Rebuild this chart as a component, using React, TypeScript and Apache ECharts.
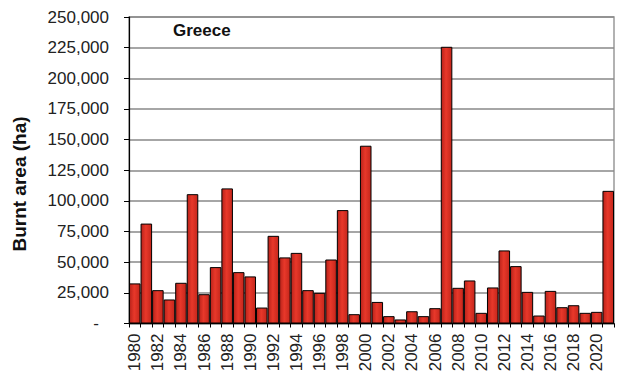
import React, { useEffect, useRef } from "react";
import * as echarts from "echarts";

const years: string[] = [
  "1980","1981","1982","1983","1984","1985","1986","1987","1988","1989",
  "1990","1991","1992","1993","1994","1995","1996","1997","1998","1999",
  "2000","2001","2002","2003","2004","2005","2006","2007","2008","2009",
  "2010","2011","2012","2013","2014","2015","2016","2017","2018","2019",
  "2020","2021",
];

const burntArea: number[] = [
  32700, 81500, 27200, 19600, 33200, 105500, 23900, 46000, 110200, 41900,
  38400, 13000, 71500, 53900, 57600, 27200, 25000, 52200, 92500, 7600,
  145000, 17600, 6000, 3300, 10000, 6000, 12500, 225700, 29100, 35100,
  8700, 29400, 59600, 46800, 25800, 6500, 26600, 13300, 14900, 8700,
  9500, 108200,
];

const chartTitle = "Greece";
const yAxisTitle = "Burnt area (ha)";

const FONT = "'Liberation Sans', Arial, sans-serif";

export default function App() {
  const ref = useRef<HTMLDivElement>(null);

  useEffect(() => {
    document.body.style.margin = "0";
    if (!ref.current) return;
    const chart = echarts.init(ref.current, undefined, { renderer: "svg" });
    chart.setOption({
      animation: false,
      backgroundColor: "#ffffff",
      textStyle: { fontFamily: FONT },
      title: {
        text: chartTitle,
        left: 168,
        top: 17,
        textStyle: { fontFamily: FONT, fontSize: 17, fontWeight: "bold", color: "#111" },
      },
      graphic: [
        {
          type: "text",
          x: 19.5,
          y: 184,
          rotation: Math.PI / 2,
          style: {
            text: yAxisTitle,
            fontFamily: FONT,
            fontSize: 19,
            fontWeight: "bold",
            fill: "#111",
            textAlign: "center",
            textVerticalAlign: "middle",
          },
        },
      ],
      grid: {
        left: 129,
        right: 26,
        top: 17,
        bottom: 62.5,
        show: true,
        borderColor: "#999",
        borderWidth: 1.5,
        containLabel: false,
      },
      xAxis: {
        type: "category",
        data: years,
        boundaryGap: true,
        axisLine: { show: true, lineStyle: { color: "#000", width: 1.2 } },
        axisTick: { show: true, interval: 0, length: 4, lineStyle: { color: "#000" } },
        axisLabel: {
          interval: 1,
          rotate: 90,
          margin: 10,
          fontFamily: FONT,
          fontSize: 17,
          color: "#222",
        },
        splitLine: { show: false },
      },
      yAxis: {
        type: "value",
        min: 0,
        max: 250000,
        interval: 25000,
        axisLine: { show: true, lineStyle: { color: "#000", width: 1.2 } },
        axisTick: { show: true, length: 5, lineStyle: { color: "#000" } },
        axisLabel: {
          margin: 20,
          fontFamily: FONT,
          fontSize: 17,
          color: "#222",
          formatter: (v: number) =>
            v === 0 ? "{d|-}" : v.toLocaleString("en-US"),
          rich: {
            d: { fontFamily: FONT, fontSize: 17, color: "#222", padding: [0, 10, 0, 0] },
          },
        },
        splitLine: { show: true, lineStyle: { color: "#888", width: 1.5 } },
      },
      series: [
        {
          type: "bar",
          data: burntArea,
          barWidth: "100%",
          itemStyle: {
            color: new echarts.graphic.LinearGradient(0, 0, 1, 0, [
              { offset: 0, color: "#b8221a" },
              { offset: 0.45, color: "#e8382a" },
              { offset: 1, color: "#c4261b" },
            ]),
            borderColor: "#000",
            borderWidth: 1,
          },
        },
      ],
    });
    return () => chart.dispose();
  }, []);

  return (
    <div
      ref={ref}
      style={{ position: "fixed", left: 0, top: 0, width: 640, height: 386 }}
    />
  );
}
